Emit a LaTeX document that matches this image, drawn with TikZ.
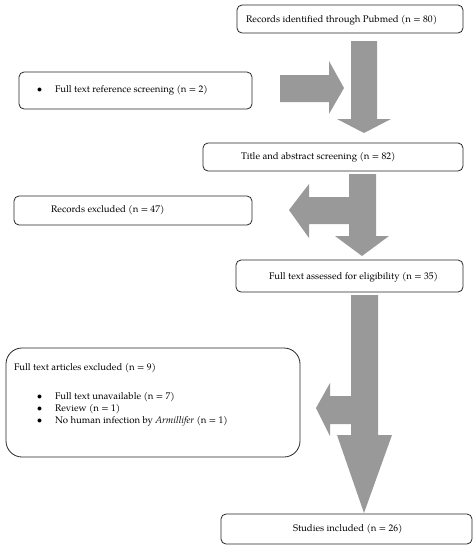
\documentclass[tikz,border=0pt]{standalone}
\usepackage{fontspec}
\setmainfont{TeX Gyre Pagella}
\begin{document}
\begin{tikzpicture}[x=1pt,y=-1pt,
  box/.style={draw=black!85,line width=0.8pt,rounded corners=5pt},
  bigbox/.style={draw=black!85,line width=0.8pt,rounded corners=16pt},
  txt/.style={anchor=west,inner sep=0pt,font=\fontsize{9.6}{11.5}\selectfont},
  arr/.style={fill=black!40,draw=none}]
\useasboundingbox (0,0) rectangle (475,550);
% boxes
\node[box,minimum width=226pt,minimum height=28pt] (b1) at (350,19) {};
\node[box,minimum width=233pt,minimum height=37pt] (b2) at (135.5,90.5) {};
\node[box,minimum width=260pt,minimum height=28pt] (b3) at (333,157) {};
\node[box,minimum width=238pt,minimum height=29pt] (b4) at (133,210.5) {};
\node[box,minimum width=227pt,minimum height=32pt] (b5) at (349.5,276) {};
\node[bigbox,minimum width=294pt,minimum height=109pt] (b6) at (153,402.5) {};
\node[box,minimum width=251pt,minimum height=30pt] (b7) at (346.5,529) {};
% texts
\node[txt] (t1) at (246,20) {Records identified through Pubmed (n = 80)};
\node[txt] (t2d) at (37,90) {$\bullet$};
\node[txt] (t2) at (55,90) {Full text reference screening (n = 2)};
\node[txt] (t3) at (241,157) {Title and abstract screening (n = 82)};
\node[txt] (t4) at (51,210) {Records excluded (n = 47)};
\node[txt] (t5) at (269,277) {Full text assessed for eligibility (n = 35)};
\node[txt] (t6) at (14,368) {Full text articles excluded (n = 9)};
\node[txt] (t6a) at (37,397) {$\bullet$};
\node[txt] (t6b) at (55,397) {Full text unavailable (n = 7)};
\node[txt] (t6c) at (37,409) {$\bullet$};
\node[txt] (t6d) at (55,409) {Review (n = 1)};
\node[txt] (t6e) at (37,421) {$\bullet$};
\node[txt] (t6f) at (55,421) {No human infection by \textit{Armillifer} (n = 1)};
\node[txt] (t7) at (293,529) {Studies included (n = 26)};
% arrows
\fill[arr] (280,75) -- (329,75) -- (329,61) -- (344,88) -- (329,114) -- (329,102) -- (280,102) -- cycle;
\fill[arr] (351,41) -- (377,41) -- (377,119) -- (391,119) -- (364,133) -- (337,119) -- (351,119) -- cycle;
\fill[arr] (349,174) -- (376,174) -- (376,236) -- (389,236) -- (362,256) -- (335,236) -- (349,236) -- (349,224) -- (309,224) -- (309,238) -- (289,210) -- (309,184) -- (309,197) -- (349,197) -- cycle;
\fill[arr] (351,295) -- (378,295) -- (378,435) -- (392,435) -- (364,513) -- (337,435) -- (351,435) -- (351,424) -- (330,424) -- (330,436) -- (316,408) -- (330,383) -- (330,396) -- (351,396) -- cycle;
\end{tikzpicture}
\end{document}
